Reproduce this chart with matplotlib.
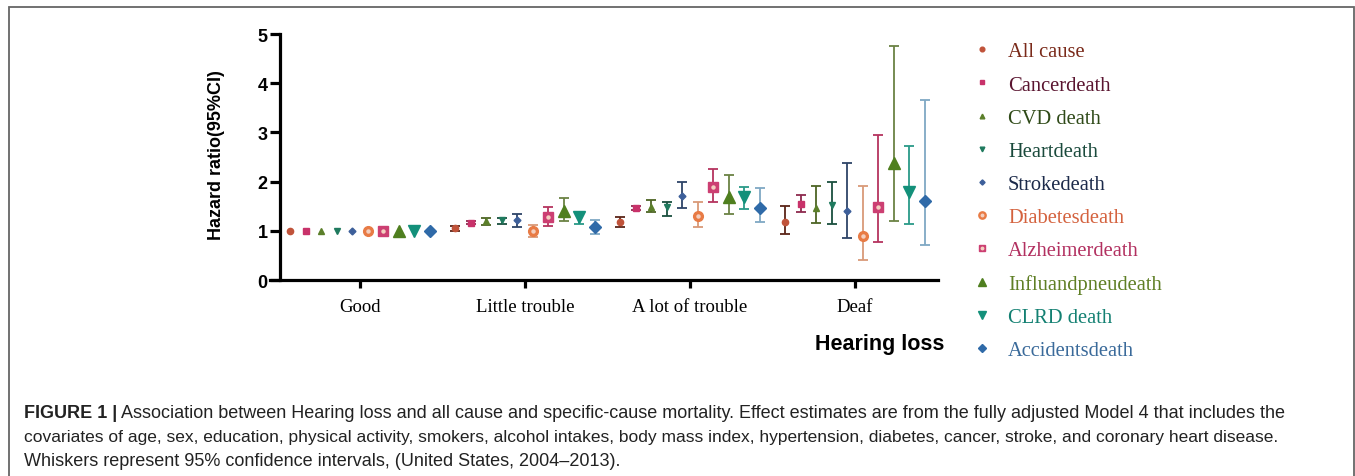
import matplotlib
matplotlib.use('Agg')
import matplotlib.pyplot as plt
import numpy as np
from matplotlib.lines import Line2D
from matplotlib.patches import Rectangle
from matplotlib.legend_handler import HandlerTuple

groups = ['Good', 'Little trouble', 'A lot of trouble', 'Deaf']
causes = ['All cause', 'Cancerdeath', 'CVD death', 'Heartdeath', 'Strokedeath',
          'Diabetesdeath', 'Alzheimerdeath', 'Influandpneudeath', 'CLRD death', 'Accidentsdeath']

# hazard ratio and 95% CI, one value per hearing group (Good, Little, A lot, Deaf)
all_cause = [1.00, 1.05, 1.18, 1.18]
all_cause_lo = [1.00, 1.00, 1.08, 0.93]
all_cause_hi = [1.00, 1.09, 1.28, 1.50]
cancer = [1.00, 1.16, 1.46, 1.54]
cancer_lo = [1.00, 1.13, 1.42, 1.38]
cancer_hi = [1.00, 1.19, 1.50, 1.73]
cvd = [1.00, 1.20, 1.48, 1.46]
cvd_lo = [1.00, 1.12, 1.38, 1.16]
cvd_hi = [1.00, 1.27, 1.63, 1.91]
heart = [1.00, 1.22, 1.48, 1.52]
heart_lo = [1.00, 1.14, 1.30, 1.14]
heart_hi = [1.00, 1.27, 1.58, 1.99]
stroke = [1.00, 1.22, 1.71, 1.40]
stroke_lo = [1.00, 1.08, 1.46, 0.85]
stroke_hi = [1.00, 1.34, 2.00, 2.38]
diabetes = [1.00, 1.00, 1.30, 0.89]
diabetes_lo = [1.00, 0.87, 1.08, 0.41]
diabetes_hi = [1.00, 1.12, 1.58, 1.91]
alzheimer = [1.00, 1.28, 1.89, 1.48]
alzheimer_lo = [1.00, 1.10, 1.58, 0.77]
alzheimer_hi = [1.00, 1.48, 2.26, 2.95]
influ = [1.00, 1.40, 1.69, 2.38]
influ_lo = [1.00, 1.20, 1.34, 1.20]
influ_hi = [1.00, 1.67, 2.13, 4.76]
clrd = [1.00, 1.28, 1.69, 1.79]
clrd_lo = [1.00, 1.14, 1.44, 1.14]
clrd_hi = [1.00, 1.38, 1.89, 2.72]
accidents = [1.00, 1.08, 1.46, 1.61]
accidents_lo = [1.00, 0.93, 1.18, 0.71]
accidents_hi = [1.00, 1.22, 1.87, 3.66]

hr = [all_cause, cancer, cvd, heart, stroke, diabetes, alzheimer, influ, clrd, accidents]
lo = [all_cause_lo, cancer_lo, cvd_lo, heart_lo, stroke_lo, diabetes_lo, alzheimer_lo,
      influ_lo, clrd_lo, accidents_lo]
hi = [all_cause_hi, cancer_hi, cvd_hi, heart_hi, stroke_hi, diabetes_hi, alzheimer_hi,
      influ_hi, clrd_hi, accidents_hi]

colors = ['#c0533a', '#c8326a', '#5b7f2a', '#1f7a5e', '#3d5f9a',
          '#e87b45', '#cc3f72', '#4f7f1f', '#13907a', '#2f6aa8']
ecolors = ['#5a2418', '#8e2a4e', '#4d6424', '#1a4f3f', '#2e4468',
           '#d99a78', '#b5345f', '#6b8244', '#2a9a88', '#7fa8c4']
textcolors = ['#7a2a1a', '#5a1530', '#2f4a18', '#1a4a3c', '#1c2a4a',
              '#d4623e', '#b23060', '#5f7f25', '#138072', '#3a6a9a']
markers = ['o', 's', '^', 'v', 'D', 'o', 's', '^', 'v', 'D']
msizes = [4.5, 4.5, 4.5, 4.5, 3.5, 7, 6.5, 8, 8, 6]
hollow = [False] * 5 + [True, True, False, False, False]

fig = plt.figure(figsize=(13.55, 4.77), dpi=100)
W, H = 1355, 477

# axes placed to match the picture in pixel terms
ax = fig.add_axes([270 / W, (H - 281) / H, (938 - 270) / W, (281 - 35) / H])

step = 0.094
xc = np.arange(len(groups))
for i in range(len(causes)):
    x = xc + (i - 4.5) * step
    y = np.array(hr[i])
    l = np.array(lo[i])
    h = np.array(hi[i])
    has_ci = h > l
    ax.errorbar(x[has_ci], y[has_ci], yerr=[y[has_ci] - l[has_ci], h[has_ci] - y[has_ci]],
                fmt='none', ecolor=ecolors[i], elinewidth=1.3, capsize=3.5, capthick=1.3,
                zorder=2)
    ax.plot(x, y, linestyle='none', marker=markers[i], color=colors[i],
            markersize=msizes[i], zorder=3)
    if hollow[i]:
        ax.plot(x, y, linestyle='none', marker='o', color='#f4d0c0', markersize=2.2, zorder=4)

ax.set_xlim(-0.545, 3.503)
ax.set_ylim(0, 5)
ax.spines['top'].set_visible(False)
ax.spines['right'].set_visible(False)
ax.spines['left'].set_position(('data', -0.485))
for s in ['left', 'bottom']:
    ax.spines[s].set_linewidth(2.3)
ax.set_yticks(range(6))
ax.set_yticklabels([str(v) for v in range(6)], fontfamily='Liberation Sans',
                   fontweight='bold', fontsize=13)
ax.set_xticks(xc)
ax.set_xticklabels(groups, fontfamily='Liberation Serif', fontsize=13.5)
ax.tick_params(axis='y', length=7, width=2.3, pad=2)
ax.tick_params(axis='x', length=6, width=2.3, pad=7)

ax.set_ylabel('Hazard ratio(95%CI)', fontfamily='Liberation Sans', fontweight='bold',
              fontsize=13)
ax.yaxis.set_label_coords(-0.068, 0.512)
ax.set_xlabel('Hearing loss', fontfamily='Liberation Sans', fontweight='bold', fontsize=15.5)
ax.xaxis.set_label_coords(0.913, -0.215)

# legend: markers only, coloured labels
handles = []
for i in range(len(causes)):
    m = Line2D([], [], linestyle='none', marker=markers[i], color=colors[i],
               markersize=msizes[i] * 0.75)
    if hollow[i]:
        dot = Line2D([], [], linestyle='none', marker='o', color='#f4d0c0', markersize=1.8)
        handles.append((m, dot))
    else:
        handles.append(m)
fig.legend(handles, causes, loc='upper left', bbox_to_anchor=(972 / W, 1 - 43 / H),
           frameon=False, handlelength=1.0, handletextpad=0.75, borderpad=0,
           borderaxespad=0, labelspacing=0.67, labelcolor=textcolors,
           prop={'family': 'Liberation Serif', 'size': 14.8},
           handler_map={tuple: HandlerTuple(ndivide=1)})

# caption
fig.add_artist(Rectangle((9 / W, -0.1), (1354 - 9) / W, 1.1 - 8 / H, transform=fig.transFigure,
                         fill=False, edgecolor='#666666', linewidth=1.3))
cap_font = {'family': 'Liberation Sans', 'color': '#222222'}
t0 = fig.text(24 / W, 1 - 418 / H, 'FIGURE 1 |', fontweight='bold', size=13, **cap_font)
fig.canvas.draw()
bb = t0.get_window_extent()
fig.text(bb.x1 / W + 4 / W, 1 - 418 / H,
         'Association between Hearing loss and all cause and specific-cause mortality. '
         'Effect estimates are from the fully adjusted Model 4 that includes the',
         size=13, **cap_font)
fig.text(24 / W, 1 - 442 / H,
         'covariates of age, sex, education, physical activity, smokers, alcohol intakes, '
         'body mass index, hypertension, diabetes, cancer, stroke, and coronary heart disease.',
         size=12.5, **cap_font)
fig.text(24 / W, 1 - 466 / H,
         'Whiskers represent 95% confidence intervals, (United States, 2004\u20132013).',
         size=13, **cap_font)

fig.savefig('out.png', dpi=100)
